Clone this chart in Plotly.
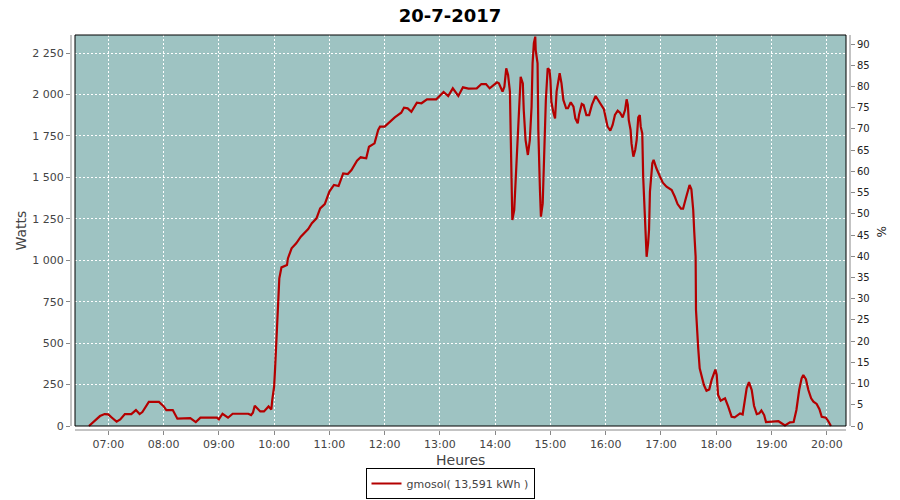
import plotly.graph_objects as go

DAY = "2017-07-20"

times = [
    "06:39", "06:45", "06:51", "06:56", "07:00", "07:04", "07:09", "07:13", "07:18", "07:25",
    "07:30", "07:34", "07:37", "07:44", "07:55", "08:00", "08:03", "08:10", "08:15", "08:29",
    "08:35", "08:40", "08:58", "09:00", "09:04", "09:10", "09:15", "09:32", "09:35", "09:37",
    "09:39", "09:45", "09:49", "09:54", "09:57", "09:58", "10:00", "10:01", "10:02", "10:03:30",
    "10:05", "10:05:40", "10:08", "10:14", "10:15", "10:19", "10:24", "10:29", "10:37", "10:41",
    "10:46", "10:50", "10:55", "11:00", "11:05", "11:10", "11:15", "11:20", "11:24", "11:30",
    "11:34", "11:40", "11:43", "11:49", "11:53", "11:55", "12:00", "12:06", "12:11", "12:18",
    "12:21", "12:25", "12:29", "12:35", "12:40", "12:46", "12:56", "13:04", "13:09", "13:14",
    "13:20", "13:25", "13:31", "13:40", "13:45", "13:50", "13:54", "14:02", "14:04", "14:08",
    "14:10", "14:12", "14:14", "14:16", "14:17", "14:18:36", "14:20:40", "14:22:36", "14:25", "14:27:40",
    "14:30", "14:31", "14:33", "14:35:30", "14:37:36", "14:39:30", "14:40:36", "14:42", "14:43:30", "14:44",
    "14:46", "14:46:50", "14:48:36", "14:49:40", "14:51:36", "14:53", "14:55", "14:57", "14:59", "15:00",
    "15:01", "15:03", "15:05", "15:06:40", "15:09", "15:10", "15:12", "15:14", "15:17", "15:19",
    "15:22", "15:25", "15:27", "15:29:36", "15:31", "15:34", "15:36", "15:39", "15:42", "15:45",
    "15:49", "15:54", "15:58", "16:02", "16:05", "16:07:30", "16:10", "16:13", "16:15:30", "16:18:24",
    "16:21", "16:22:40", "16:24", "16:25", "16:27", "16:28", "16:30", "16:32", "16:33:36", "16:35:20",
    "16:37", "16:38", "16:39:40", "16:40:40", "16:42", "16:42:36", "16:44:24", "16:46", "16:47", "16:48",
    "16:49", "16:50:36", "16:52", "16:55", "16:59", "17:02", "17:06", "17:11:36", "17:15", "17:18",
    "17:21:40", "17:24", "17:27", "17:29:36", "17:31", "17:33", "17:35", "17:36", "17:37:36", "17:38",
    "17:39", "17:40:24", "17:42", "17:44", "17:46:36", "17:49:24", "17:52:24", "17:55", "17:59", "18:00:30",
    "18:02", "18:04:48", "18:09:30", "18:13", "18:16:40", "18:20", "18:25:48", "18:28:40", "18:31", "18:33",
    "18:35:30", "18:38:30", "18:41", "18:44", "18:46:40", "18:49", "18:52", "18:54", "19:07:30", "19:11",
    "19:14:36", "19:20", "19:24", "19:27", "19:30", "19:32:40", "19:34:30", "19:37:20", "19:40", "19:43",
    "19:45:30", "19:49", "19:52", "19:54:30", "19:59", "20:01:30", "20:04:30",
]

watts = [
    0, 30, 60, 72, 70, 50, 26, 40, 72, 72,
    96, 72, 84, 145, 145, 120, 96, 96, 44, 48,
    24, 50, 50, 40, 74, 50, 74, 74, 66, 80,
    122, 88, 88, 118, 100, 157, 237, 338, 458, 720,
    810, 891, 957, 971, 1011, 1072, 1102, 1142, 1188, 1223,
    1253, 1313, 1339, 1414, 1454, 1448, 1524, 1520, 1544, 1601,
    1621, 1615, 1685, 1705, 1786, 1806, 1806, 1836, 1862, 1890,
    1920, 1916, 1896, 1951, 1947, 1971, 1971, 2015, 1991, 2037,
    1991, 2043, 2035, 2037, 2063, 2063, 2037, 2073, 2067, 2017,
    2047, 2158, 2118, 2017, 1665, 1243, 1303, 1525, 1846, 2107,
    2067, 1906, 1725, 1635, 1725, 1926, 2188, 2309, 2349, 2268,
    2188, 1786, 1424, 1263, 1343, 1625, 1967, 2158, 2148, 2087,
    1956, 1896, 1856, 2017, 2107, 2128, 2067, 1967, 1917, 1917,
    1953, 1926, 1856, 1826, 1876, 1943, 1937, 1876, 1876, 1937,
    1991, 1947, 1911, 1806, 1782, 1816, 1876, 1902, 1890, 1862,
    1906, 1971, 1937, 1846, 1786, 1705, 1625, 1665, 1725, 1862,
    1876, 1806, 1766, 1504, 1345, 1182, 1021, 1102, 1182, 1414,
    1504, 1585, 1605, 1555, 1504, 1468, 1444, 1424, 1383, 1339,
    1311, 1311, 1374, 1434, 1454, 1428, 1303, 1182, 1021, 700,
    579, 469, 348, 298, 247, 213, 221, 278, 340, 308,
    187, 153, 167, 117, 56, 52, 76, 70, 160, 227,
    264, 217, 122, 72, 76, 94, 66, 24, 29, 14,
    4, 22, 24, 97, 217, 288, 308, 282, 217, 167,
    147, 133, 101, 56, 50, 30, 0,
]

x_vals = [f"{DAY} {t}" if len(t) > 5 else f"{DAY} {t}:00" for t in times]

series_name = "gmosol( 13,591 kWh )"
title_text = "20-7-2017"
x_title = "Heures"
y_title = "Watts"
y2_title = "%"

# geometry (pixels) — the page body margin is removed by post_script
W, H = 900, 500
L, T, R, B = 71, 35, 50, 70
pw, ph = W - L - R, H - T - B
gx = 4 / pw
gy = 4 / ph
bottom_px = T + ph


def px_y(ref_y):
    return (bottom_px - ref_y) / ph


def px_x(ref_x):
    return (ref_x - L) / pw


fig = go.Figure()
fig.add_trace(go.Scatter(
    x=x_vals, y=watts, mode="lines", name=series_name,
    line=dict(color="#b40000", width=2.2), hoverinfo="skip",
))
# invisible helper so that the right axis is drawn
fig.add_trace(go.Scatter(
    x=[x_vals[0]], y=[0], yaxis="y2", mode="markers",
    marker=dict(opacity=0), showlegend=False, hoverinfo="skip",
))

grid = dict(showgrid=True, gridcolor="white", gridwidth=1, griddash="2px,2px")

fig.update_layout(
    width=W, height=H,
    margin=dict(l=L, r=R, t=T, b=B, pad=0, autoexpand=False),
    paper_bgcolor="white", plot_bgcolor="white",
    separators=", ",
    font=dict(family="DejaVu Sans", size=11, color="#444444"),
    title=dict(text=f"<b>{title_text}</b>", x=0.5, xanchor="center",
               y=1 - 15.5 / H, yanchor="middle",
               font=dict(family="DejaVu Sans", size=18, color="black")),
    xaxis=dict(
        type="date",
        range=[f"{DAY} 06:19:31", f"{DAY} 20:25:11"],
        tick0=f"{DAY} 07:00", dtick=3600000, tickformat="%H:%M",
        ticks="outside", ticklen=4, tickcolor="#888888",
        showline=False, zeroline=False, automargin=False,
        tickfont=dict(size=11, color="#444444"),
        **grid,
    ),
    yaxis=dict(
        range=[-24.1, 2358.8], tick0=0, dtick=250,
        separatethousands=True,
        ticks="outside", ticklen=4, tickcolor="#888888",
        showline=False, zeroline=False, automargin=False,
        tickfont=dict(size=11, color="#444444"),
        **grid,
    ),
    yaxis2=dict(
        overlaying="y", side="right", anchor="x",
        range=[-0.94, 92.12], tick0=0, dtick=5,
        ticks="outside", ticklen=4, tickcolor="#888888",
        showgrid=False, zeroline=False, showline=False, automargin=False,
        tickfont=dict(size=10, color="#222222"),
    ),
    showlegend=True,
    legend=dict(
        orientation="h", x=px_x(450), xanchor="center",
        y=px_y(499), yanchor="bottom",
        bgcolor="white", bordercolor="black", borderwidth=1,
        font=dict(size=11, color="#444444"),
    ),
    shapes=[
        dict(type="rect", xref="paper", yref="paper", x0=gx, x1=1 - gx, y0=gy, y1=1,
             fillcolor="#9ec3c2", line=dict(width=0), layer="below"),
        dict(type="rect", xref="paper", yref="paper", x0=gx, x1=1 - gx, y0=gy, y1=1,
             fillcolor="rgba(0,0,0,0)", line=dict(color="black", width=1), layer="above"),
        dict(type="line", xref="paper", yref="paper", x0=0, x1=0, y0=gy, y1=1,
             line=dict(color="#888888", width=1)),
        dict(type="line", xref="paper", yref="paper", x0=1, x1=1, y0=gy, y1=1,
             line=dict(color="#888888", width=1)),
        dict(type="line", xref="paper", yref="paper", x0=gx, x1=1 - gx, y0=0, y1=0,
             line=dict(color="#888888", width=1)),
    ],
    annotations=[
        dict(text=y_title, xref="paper", yref="paper",
             x=px_x(20), y=px_y(230.5), textangle=-90,
             showarrow=False, xanchor="center", yanchor="middle",
             font=dict(size=14, color="#444444")),
        dict(text=x_title, xref="paper", yref="paper",
             x=px_x(460.5), y=px_y(460),
             showarrow=False, xanchor="center", yanchor="middle",
             font=dict(size=14, color="#444444")),
        dict(text=y2_title, xref="paper", yref="paper",
             x=px_x(881), y=px_y(231), textangle=90,
             showarrow=False, xanchor="center", yanchor="middle",
             font=dict(size=12, color="#222222")),
    ],
)

fig.write_html(
    "out.html",
    config={"displayModeBar": False, "staticPlot": True},
    post_script="document.body.style.margin='0';",
)
